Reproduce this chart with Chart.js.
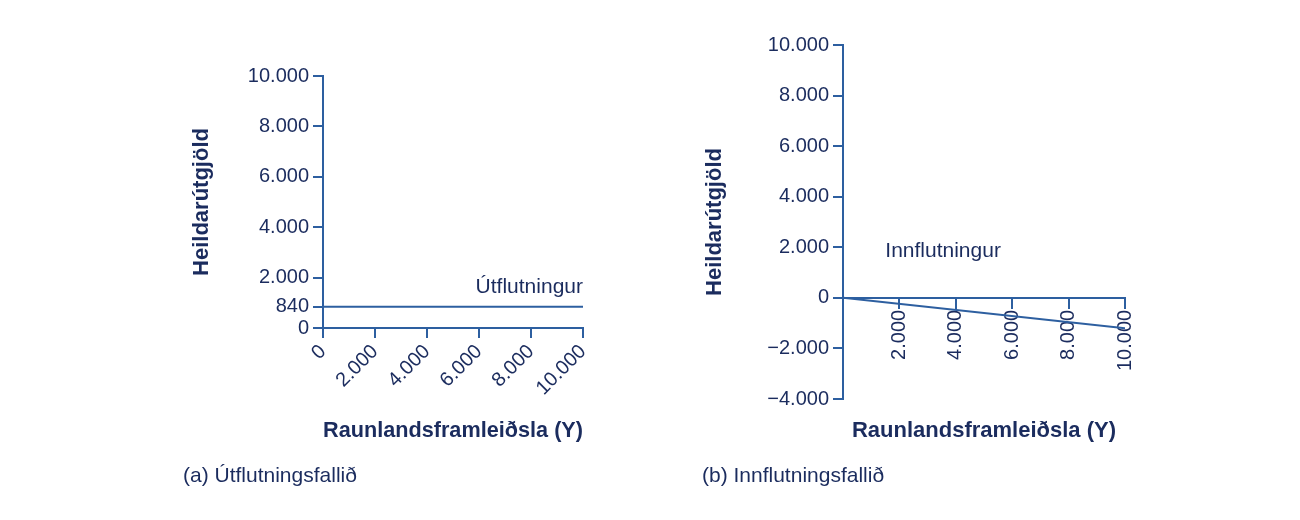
<!DOCTYPE html>
<html><head><meta charset="utf-8">
<script src="https://cdn.jsdelivr.net/npm/chart.js@4"></script>
<style>
body{margin:0;background:#fff;width:1300px;height:520px;position:relative;overflow:hidden;font-family:"Liberation Sans",Arial,sans-serif}
canvas{position:absolute;top:0}
.cap{position:absolute;top:463px;font-size:21px;color:#1b2c5e}
</style></head><body>
<div style="position:absolute;left:0;top:0;width:650px;height:520px"><canvas id="a"></canvas></div>
<div style="position:absolute;left:650px;top:0;width:650px;height:520px"><canvas id="b"></canvas></div>
<div class="cap" style="left:183px">(a) Útflutningsfallið</div>
<div class="cap" style="left:702px">(b) Innflutningsfallið</div>
<script>
const xTicks=[0,2000,4000,6000,8000,10000];
const yTicksA=[0,840,2000,4000,6000,8000,10000];
const yTicksB=[-4000,-2000,0,2000,4000,6000,8000,10000];
const exportX=[0,10000], exportY=[840,840];
const importX=[0,10000], importY=[0,-1200];
const TXT='#1b2c5e', LN='#2d5fa0';
const fmt=v=>{const s=Math.abs(v).toString().replace(/\B(?=(\d{3})+(?!\d))/g,'.');return (v<0?'\u2212':'')+s;};
const F={family:'"Liberation Sans",Arial,sans-serif',size:20};
const labelPlugin={id:'lbl',afterDatasetsDraw(c,a,o){const ctx=c.ctx;ctx.save();ctx.fillStyle=TXT;ctx.font='21px "Liberation Sans",Arial';ctx.textAlign=o.align;ctx.textBaseline='middle';ctx.fillText(o.text,c.scales.x.getPixelForValue(o.x),c.scales.y.getPixelForValue(o.y));ctx.restore();}};
function fixW(w){return s=>{s.width=w;};}
function fixH(h){return s=>{s.height=h;};}
function mk(id,xs,ys,yt,ymin,pad,W,H,lbl,xpos){
 const right=id==='b';
 const TF={...F,size:22,weight:'bold'};
 const scales={
  x:{type:'linear',min:0,max:10000,position:xpos,afterBuildTicks:s=>{s.ticks=xTicks.map(v=>({value:v}));},
     afterFit:right?undefined:fixH(H),
     grid:{drawOnChartArea:false,drawTicks:true,tickLength:10,color:LN,lineWidth:2},border:{color:LN,width:2},
     ticks:{color:TXT,font:F,minRotation:right?90:45,maxRotation:right?90:45,padding:2,callback:v=>(right&&v===0)?'':fmt(v)},
     title:{display:!right,text:'Raunlandsframleiðsla (Y)',color:TXT,font:TF}},
  y:{type:'linear',min:ymin,max:10000,afterBuildTicks:s=>{s.ticks=yt.map(v=>({value:v}));},afterFit:fixW(W),
     grid:{drawOnChartArea:false,drawTicks:true,tickLength:10,color:LN,lineWidth:2},border:{color:LN,width:2},
     ticks:{color:TXT,font:F,padding:4,callback:v=>fmt(v)},
     title:{display:true,text:'Heildarútgjöld',color:TXT,font:TF,padding:{top:0,bottom:0}}}
 };
 if(right){scales.x2={type:'linear',position:'bottom',min:0,max:10000,afterFit:fixH(H),grid:{display:false},border:{display:false},ticks:{display:false},
   title:{display:true,text:'Raunlandsframleiðsla (Y)',color:TXT,font:TF}};}
 new Chart(document.getElementById(id),{type:'scatter',
  data:{datasets:[{data:xs.map((x,i)=>({x,y:ys[i]})),showLine:true,borderColor:LN,borderWidth:2,pointRadius:0}]},
  options:{responsive:true,maintainAspectRatio:false,animation:false,layout:{padding:pad},
   plugins:{legend:{display:false},tooltip:{enabled:false},lbl:lbl},scales}
  ,plugins:[labelPlugin]});
}
mk('a',exportX,exportY,yTicksA,0,{left:189,right:67,top:76,bottom:72},134,120,{text:'Útflutningur',x:10000,y:1600,align:'right'},'bottom');
mk('b',importX,importY,yTicksB,-4000,{left:52,right:175,top:45,bottom:72},141,49,{text:'Innflutningur',x:1500,y:1850,align:'left'},{y:0});
</script></body></html>
